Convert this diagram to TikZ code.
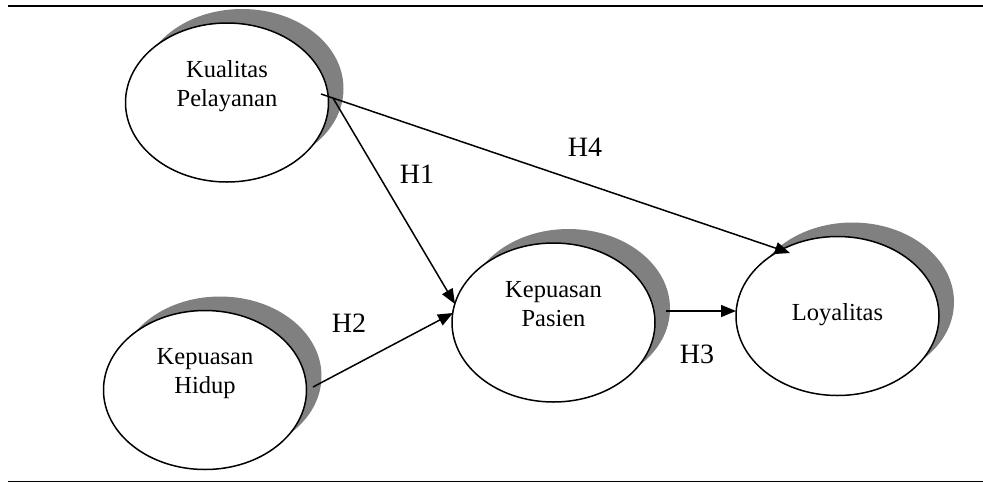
\documentclass[tikz,border=0pt]{standalone}
\usepackage{fontspec}
\setmainfont{Liberation Serif}
\usetikzlibrary{shapes.geometric,shadows,arrows.meta,calc}

\definecolor{shadowgray}{RGB}{128,128,128}

\tikzset{
  construct/.style={
    ellipse, draw=black, fill=white, line width=1.5pt,
    minimum width=203pt, minimum height=159pt, inner sep=0pt,
    drop shadow={shadow xshift=15pt, shadow yshift=14pt,
                 fill=shadowgray, opacity=1}
  },
  caption/.style={anchor=base, inner sep=0pt,
    font=\fontsize{24.5}{29}\selectfont},
  hyp/.style={inner sep=0pt, font=\fontsize{28}{32}\selectfont},
  path/.style={line width=1.5pt, -{Triangle[length=15pt,width=12pt]}},
  rule/.style={line width=1.8pt}
}

\begin{document}
\begin{tikzpicture}[x=1pt, y=-1pt]
  \useasboundingbox (0,0) rectangle (983,483);

  % horizontal rules above and below the model
  \draw[rule] (8,6) -- (983,6);
  \draw[rule] (8,481.5) -- (983,481.5);

  % latent constructs
  \node[construct] (kq) at (227,102.5) {};
  \node[construct] (kh) at (205,390) {};
  \node[construct] (kp) at (553.5,322.5) {};
  \node[construct] (lo) at (837.5,316) {};

  % construct names
  \node[caption] (kqA) at (227,77)  {Kualitas};
  \node[caption] (kqB) at (227,106) {Pelayanan};
  \node[caption] (khA) at (205,364) {Kepuasan};
  \node[caption] (khB) at (205,393) {Hidup};
  \node[caption] (kpA) at (553.5,297) {Kepuasan};
  \node[caption] (kpB) at (553.5,326) {Pasien};
  \node[caption] (loA) at (837.5,320) {Loyalitas};

  % end points of the paths
  \coordinate (h4s) at ($(kq.center)+(94,-8.5)$);
  \coordinate (h1s) at ($(kq.center)+(106,-4.5)$);
  \coordinate (h2s) at ($(kh.center)+(108,-3)$);
  \coordinate (h3s) at ($(kp.center)+(112.5,-11.5)$);
  \coordinate (h4e) at ($(lo.center)+(-47.5,-63)$);
  \coordinate (h1e) at ($(kp.center)+(-98.5,-18.5)$);
  \coordinate (h2e) at ($(kp.center)+(-100.5,-9.5)$);
  \coordinate (h3e) at ($(lo.center)+(-101.5,-5)$);

  % hypothesised paths
  \draw[path] (h4s) -- (h4e);
  \draw[path] (h1s) -- (h1e);
  \draw[path] (h2s) -- (h2e);
  \draw[path] (h3s) -- (h3e);

  % hypothesis labels
  \node[hyp] (H1) at (417,174) {H1};
  \node[hyp] (H2) at (349,323) {H2};
  \node[hyp] (H3) at (697,354) {H3};
  \node[hyp] (H4) at (585,147) {H4};
\end{tikzpicture}
\end{document}
